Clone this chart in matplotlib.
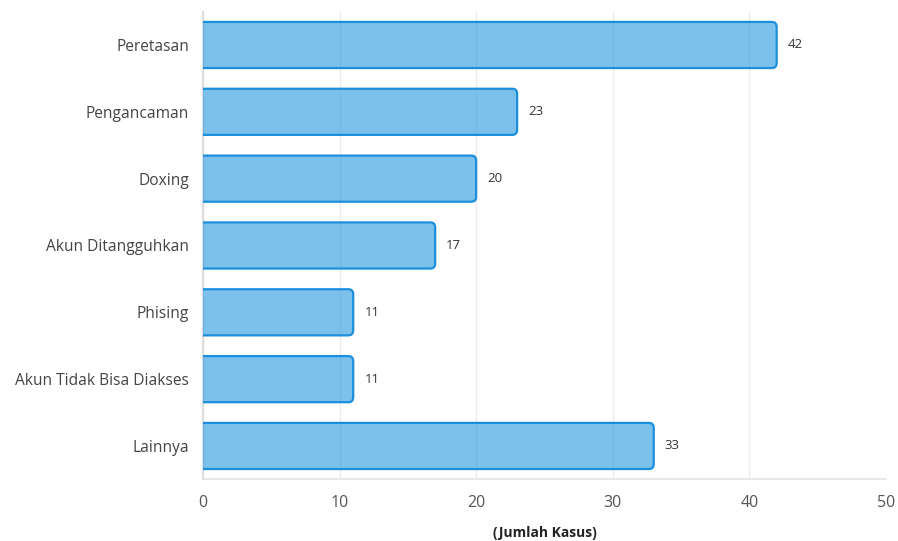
import matplotlib
matplotlib.use("Agg")
import matplotlib.pyplot as plt
from matplotlib.patches import FancyBboxPatch

categories = ["Peretasan", "Pengancaman", "Doxing", "Akun Ditangguhkan",
              "Phising", "Akun Tidak Bisa Diakses", "Lainnya"]
values = [42, 23, 20, 17, 11, 11, 33]
xticks = [0, 10, 20, 30, 40, 50]

plt.rcParams['font.family'] = ['Open Sans', 'DejaVu Sans']

fig = plt.figure(figsize=(8.98, 5.41), dpi=100)
ax = fig.add_axes([0.226, 0.1139, 0.7606, 0.8647])

pos = list(range(len(categories)))[::-1]
bars = ax.barh(pos, values, height=0.69, color='none')

# rounded bars built from the bar geometry
for b in bars:
    x, y = b.get_x(), b.get_y()
    w, h = b.get_width(), b.get_height()
    p = FancyBboxPatch((x - 1, y), w + 1, h,
                       boxstyle="round,pad=0,rounding_size=0.35",
                       mutation_aspect=0.215,
                       facecolor='#2a9be0', alpha=0.62, edgecolor='none', zorder=3)
    ax.add_patch(p)
    e = FancyBboxPatch((x - 1, y), w + 1, h,
                       boxstyle="round,pad=0,rounding_size=0.35",
                       mutation_aspect=0.215,
                       facecolor='none', edgecolor='#1b8fdc', linewidth=1.6, zorder=4)
    ax.add_patch(e)

for p_, v in zip(pos, values):
    ax.annotate(str(v), (v, p_), xytext=(8, 0), textcoords='offset points',
                va='center', ha='left', fontsize=9.5, color='#333333')

ax.set_xlim(0, 50)
ax.set_ylim(-0.5, len(categories) - 0.5)
ax.set_xticks(xticks)
ax.set_yticks(pos)
ax.set_yticklabels(categories)
ax.tick_params(axis='y', length=0, pad=10, labelsize=11.2, labelcolor='#444444')
ax.tick_params(axis='x', length=0, pad=11, labelsize=11.5, labelcolor='#555555')
ax.xaxis.grid(True, color='#ebebeb', linewidth=1)
ax.set_axisbelow(True)
for s in ['top', 'right']:
    ax.spines[s].set_visible(False)
ax.spines['left'].set_color('#dddddd')
ax.spines['left'].set_linewidth(1.5)
ax.spines['bottom'].set_color('#e3e3e3')
ax.spines['bottom'].set_linewidth(1.2)

fig.text(0.607, 0.0145, "(Jumlah Kasus)", ha='center', va='center',
         fontsize=10, fontweight='bold', color='#222222')

fig.savefig("out.png", dpi=100)
